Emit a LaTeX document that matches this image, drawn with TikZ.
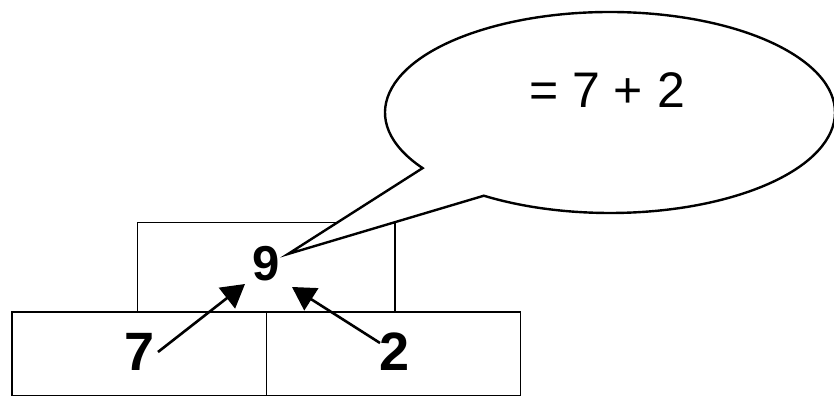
\documentclass[tikz,border=0pt]{standalone}
\usepackage{fontspec}
\setmainfont{Liberation Sans}
\usetikzlibrary{arrows.meta,calc}
\begin{document}
\begin{tikzpicture}[x=1pt,y=1pt,
  cell/.style={draw=black,line width=1.3pt},
  numlabel/.style={inner sep=0pt,anchor=base,font=\fontsize{54}{60}\selectfont\bfseries},
  pointer/.style={line width=2.6pt,-{Triangle[length=23pt,width=26pt]}},
  bubbleline/.style={draw=black,fill=white,line width=2.4pt,line join=miter}]
\useasboundingbox (0,0) rectangle (834,396);
% boxes
\draw[cell] (137.5,84) rectangle (395,173.5);
\draw[cell] (12,0.8) rectangle (266.5,84);
\draw[cell] (266.5,0.8) rectangle (520.5,84);
% numbers
\node[numlabel,font=\fontsize{49}{56}\selectfont\bfseries] (n9) at (266,115) {9};
\node[numlabel] (n7) at (140,26) {7};
\node[numlabel] (n2) at (395,26) {2};
% arrow ends
\coordinate (s7) at (158,44);
\coordinate (t7) at (245,112);
\coordinate (s2) at (380,53);
\coordinate (t2) at (292,109);
\draw[pointer] (s7) -- (t7);
\draw[pointer] (s2) -- (t2);
% speech bubble
\coordinate (bc) at (610,283.5);
\coordinate (tip) at (288,142);
\draw[bubbleline] ($(bc)+(213.6:225pt and 100.5pt)$) arc[start angle=213.6,end angle=-124.1,x radius=225pt,y radius=100.5pt] -- (tip) -- cycle;
\node[inner sep=0pt,anchor=base,font=\fontsize{50}{60}\selectfont] (eq) at (607,288) {= 7 + 2};
\end{tikzpicture}
\end{document}
